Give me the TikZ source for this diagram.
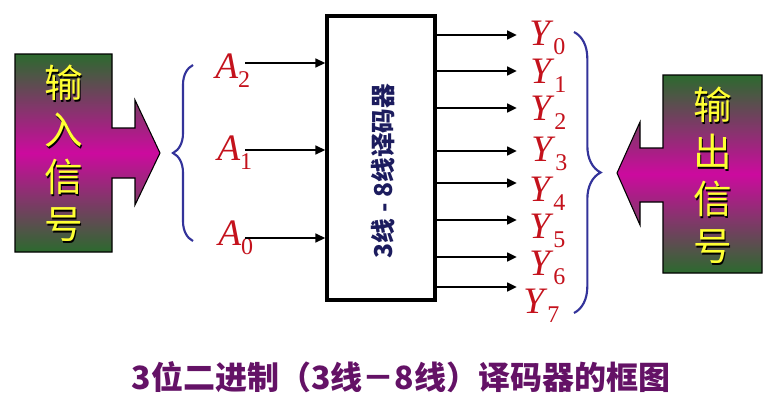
\documentclass[tikz,border=0pt]{standalone}
\usepackage{fontspec}
\setmainfont{Liberation Serif}
\newfontfamily\cjk{Noto Sans CJK SC}
\usepackage{tikz}
\usetikzlibrary{positioning,arrows.meta,decorations.pathreplacing}
\definecolor{DECnavy}{HTML}{1C1C5E}
\definecolor{DECred}{HTML}{C4121C}
\definecolor{DECblue}{HTML}{33339A}
\definecolor{DECgreen}{HTML}{2C6A2E}
\definecolor{DECmagenta}{HTML}{CC0A9E}
\definecolor{DECyellow}{HTML}{FFFF33}
\definecolor{DECpurple}{HTML}{641266}
\newcommand{\sigsub}[2]{\textit{#1}\raisebox{-7pt}{\fontsize{18}{18}\selectfont #2}}
\newcommand{\shadowch}[1]{\makebox[0pt][l]{\hspace{1.3pt}\raisebox{-1.3pt}{\color{black}#1}}#1}
\tikzset{
  sidebox/.style={draw=black, line width=0.8pt, top color=DECgreen, bottom color=DECgreen, middle color=DECmagenta},
  sidetext/.style={align=center, text=DECyellow, inner sep=0pt, font=\cjk\fontsize{29}{35.25}\selectfont},
  decbox/.style={draw=black, line width=2.4pt, fill=white, minimum width=81pt, minimum height=213pt},
  dectext/.style={rotate=90, text=DECnavy, inner sep=0pt, font=\cjk\bfseries\fontsize{18.5}{18.5}\selectfont},
  sigarr/.style={-{Triangle[length=7.5pt,width=6.5pt]}, line width=2pt, draw=black},
  siglabel/.style={text=DECred, inner sep=0pt, font=\fontsize{28}{28}\selectfont},
  bracket/.style={draw=DECblue, line width=1.6pt, decorate},
  caption/.style={text=DECpurple, inner sep=0pt, font=\cjk\bfseries\fontsize{24}{24}\selectfont}
}
\begin{document}
\begin{tikzpicture}[x=0.75pt,y=-0.75pt]
\fill[white] (0,0) rectangle (771,400);
\useasboundingbox (0,0) rectangle (771,400);
% input and output signal arrows
\path[sidebox] (15,54) -- (112,54) -- (112,128) -- (135,128) -- (135,100) -- (160,153)
  -- (135,205) -- (135,178) -- (112,178) -- (112,252) -- (15,252) -- cycle;
\path[sidebox] (762,75) -- (663,75) -- (663,148) -- (640,148) -- (640,122) -- (617,173)
  -- (640,225) -- (640,202) -- (663,202) -- (663,273) -- (762,273) -- cycle;
\node[sidetext] (lin) at (63.5,154) {\shadowch{输}\\\shadowch{入}\\\shadowch{信}\\\shadowch{号}};
\node[sidetext] (lout) at (712.5,176) {\shadowch{输}\\\shadowch{出}\\\shadowch{信}\\\shadowch{号}};
% decoder
\node[decbox] (dec) at (381,158) {};
\node[dectext] (declabel) at (383,171) {3线 - 8线译码器};
% inputs
\foreach \i/\ya/\xl/\yl in {2/63/215/78, 1/150/217/160, 0/238/218/245} {
  \node[siglabel, anchor=base west] (a\i) at (\xl,\yl) {\sigsub{A}{\i}};
  \coordinate (i\i) at (245,\ya);
  \draw[sigarr] (i\i) -- (i\i -| dec.west);
}
% outputs
\foreach \i/\ya/\xl/\yl in {0/35/529/45, 1/71/530/83, 2/108/530/120, 3/151/531/161,
    4/183/529/201, 5/220/529/238, 6/257/529/275, 7/287/523/313} {
  \node[siglabel, anchor=base west] (y\i) at (\xl,\yl) {\sigsub{Y}{\i}};
  \coordinate (o\i) at (517,\ya);
  \draw[sigarr] (o\i -| dec.east) -- (o\i);
}
% braces
\coordinate (lbt) at (193,65);
\coordinate (lbb) at (193,241);
\coordinate (rbt) at (574,32);
\coordinate (rbb) at (574,313);
\draw[bracket, decoration={brace, amplitude=15pt}] (lbb) -- (lbt);
\draw[bracket, decoration={brace, amplitude=20pt}] (rbt) -- (rbb);
% caption
\node[caption] (cap) at (401,377) {3位二进制（3线－8线）译码器的框图};
\end{tikzpicture}
\end{document}
